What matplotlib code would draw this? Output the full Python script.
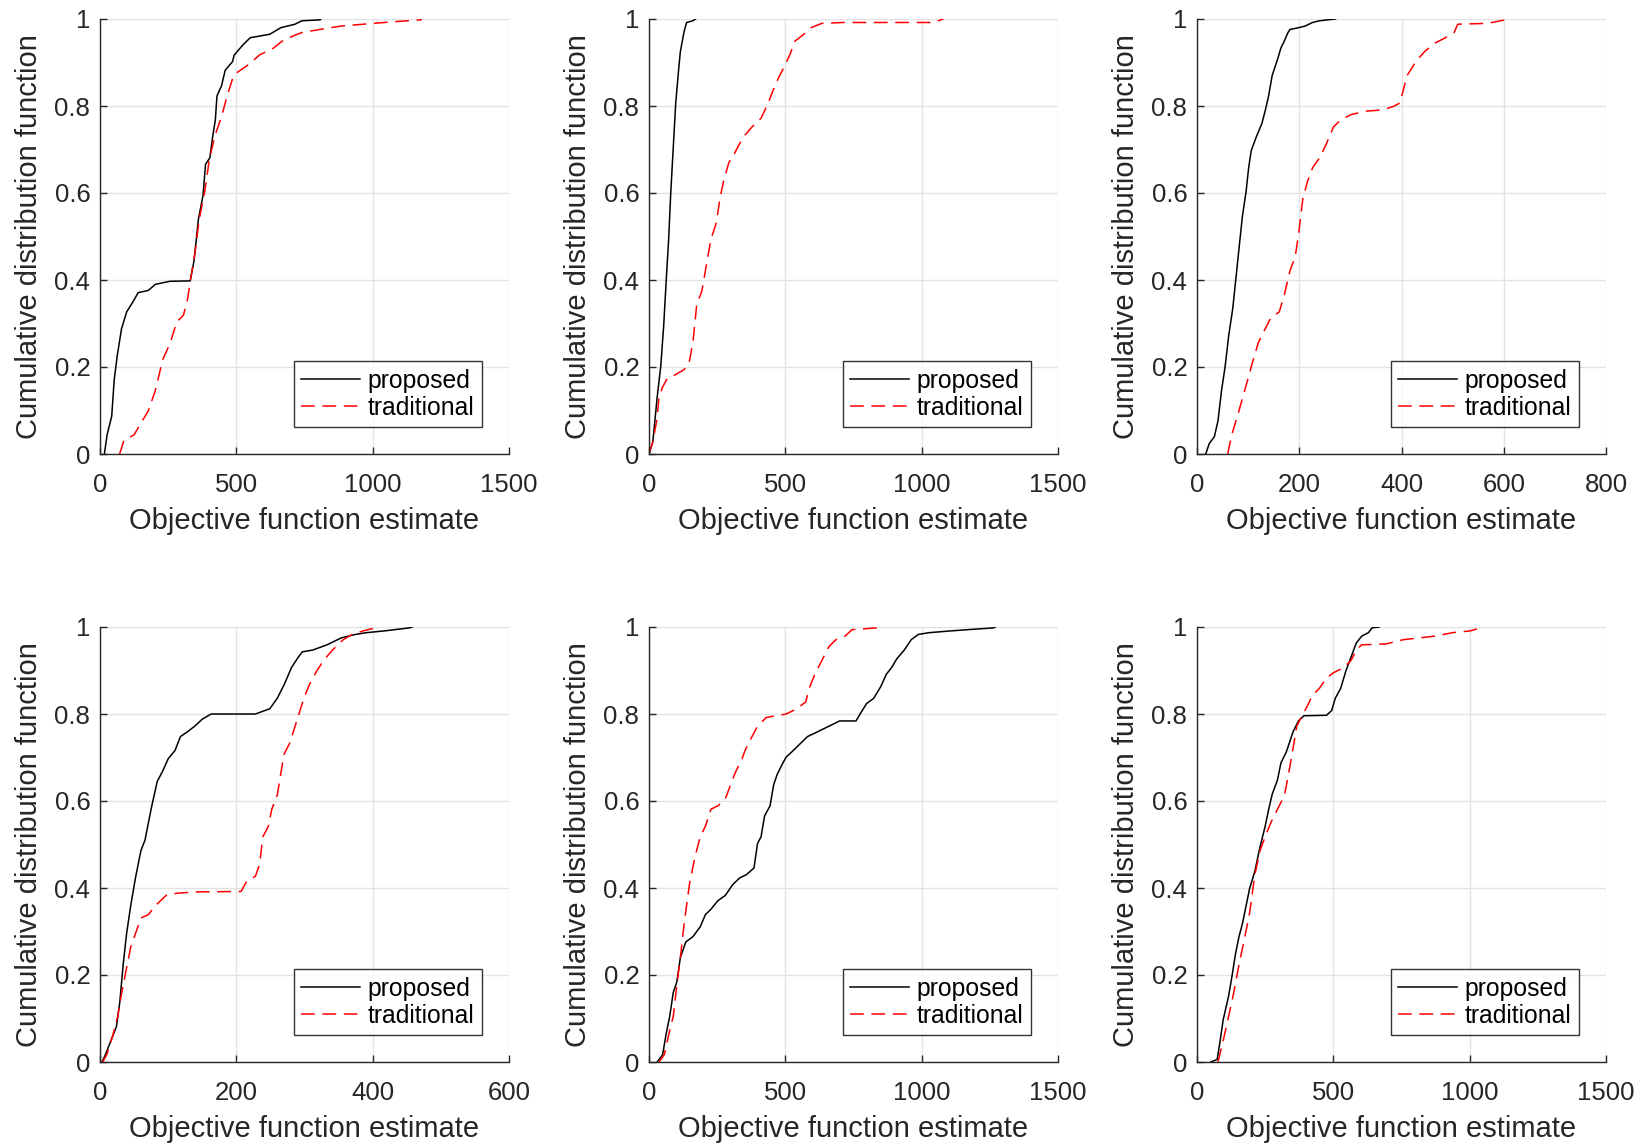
import matplotlib
matplotlib.use("Agg")
import matplotlib.pyplot as plt

plt.rcParams['font.family'] = ['Liberation Sans', 'DejaVu Sans']

# ---------------- data (CDF points) ----------------
# Panel 1
p1_prop_x = [16, 26, 43, 52, 63, 79, 98, 122, 140, 177, 203, 256, 331, 345, 361, 378, 387, 403, 413, 423,
             429, 446, 459, 486, 492, 525, 551, 623, 663, 715, 741, 807, 810]
p1_prop_F = [0, 0.044, 0.087, 0.17, 0.225, 0.288, 0.327, 0.351, 0.371, 0.376, 0.39, 0.397, 0.398, 0.445, 0.54,
             0.595, 0.666, 0.681, 0.729, 0.768, 0.823, 0.847, 0.882, 0.902, 0.917, 0.941, 0.957, 0.965, 0.98,
             0.988, 0.996, 0.998, 1.0]
p1_trad_x = [72, 88, 125, 151, 177, 203, 230, 256, 282, 306, 322, 331, 348, 364, 384, 400, 420, 446, 466, 486,
             505, 551, 584, 636, 676, 741, 807, 886, 1004, 1083, 1175, 1180]
p1_trad_F = [0, 0.032, 0.044, 0.072, 0.099, 0.146, 0.217, 0.253, 0.304, 0.319, 0.359, 0.398, 0.461, 0.54, 0.603,
             0.673, 0.729, 0.776, 0.823, 0.862, 0.878, 0.898, 0.917, 0.933, 0.953, 0.969, 0.976, 0.984, 0.99,
             0.994, 0.998, 1.0]

# Panel 2
p2_prop_x = [0, 14, 30, 43, 54, 63, 72, 80, 89, 98, 109, 115, 129, 138, 161, 171]
p2_prop_F = [0, 0.028, 0.131, 0.201, 0.296, 0.398, 0.493, 0.603, 0.705, 0.807, 0.886, 0.925, 0.972, 0.992,
             0.996, 1.0]
p2_trad_x = [0, 14, 28, 37, 50, 67, 96, 129, 148, 161, 175, 194, 207, 227, 247, 260, 273, 293, 312, 332, 352,
             378, 411, 437, 457, 476, 496, 516, 535, 568, 594, 634, 713, 1041, 1080]
p2_trad_F = [0, 0.028, 0.076, 0.131, 0.154, 0.174, 0.182, 0.194, 0.213, 0.256, 0.343, 0.375, 0.422, 0.493,
             0.532, 0.587, 0.626, 0.67, 0.689, 0.713, 0.733, 0.752, 0.772, 0.807, 0.839, 0.866, 0.89, 0.917,
             0.949, 0.965, 0.98, 0.99, 0.992, 0.992, 1.0]

# Panel 3
p3_prop_x = [17, 24, 34, 41, 48, 55, 62, 70, 77, 84, 89, 96, 101, 106, 116, 127, 134, 140, 147, 158, 164, 171,
             178, 182, 199, 212, 226, 240, 271]
p3_prop_F = [0, 0.024, 0.04, 0.076, 0.146, 0.201, 0.272, 0.335, 0.414, 0.493, 0.548, 0.603, 0.658, 0.697,
             0.729, 0.76, 0.792, 0.823, 0.87, 0.909, 0.933, 0.95, 0.969, 0.976, 0.98, 0.984, 0.992, 0.996, 1.0]
p3_trad_x = [60, 68, 82, 99, 110, 120, 130, 144, 161, 171, 182, 192, 199, 207, 216, 226, 240, 253, 267, 281,
             301, 329, 363, 384, 397, 404, 411, 428, 445, 466, 486, 503, 510, 568, 603, 605]
p3_trad_F = [0, 0.044, 0.099, 0.17, 0.217, 0.256, 0.28, 0.312, 0.327, 0.367, 0.422, 0.453, 0.508, 0.587,
             0.626, 0.658, 0.681, 0.713, 0.752, 0.768, 0.78, 0.788, 0.791, 0.799, 0.807, 0.839, 0.87, 0.902,
             0.925, 0.945, 0.957, 0.969, 0.988, 0.99, 0.998, 1.0]

# Panel 4
p4_prop_x = [3, 8, 16, 24, 29, 34, 39, 45, 52, 60, 66, 71, 76, 84, 92, 100, 110, 118, 129, 139, 150, 163, 228,
             249, 260, 270, 281, 291, 297, 312, 333, 354, 375, 391, 417, 454, 458]
p4_prop_F = [0, 0.017, 0.049, 0.081, 0.137, 0.224, 0.295, 0.359, 0.423, 0.486, 0.51, 0.55, 0.589, 0.645,
             0.669, 0.697, 0.716, 0.748, 0.76, 0.772, 0.788, 0.8, 0.8, 0.812, 0.836, 0.867, 0.907, 0.931, 0.943,
             0.947, 0.959, 0.975, 0.983, 0.987, 0.991, 0.998, 1.0]
p4_trad_x = [4, 10, 18, 26, 31, 37, 45, 52, 60, 71, 81, 97, 113, 139, 207, 215, 228, 234, 239, 247, 252, 260,
             265, 270, 278, 283, 291, 299, 307, 318, 328, 341, 357, 370, 386, 404, 406]
p4_trad_F = [0, 0.017, 0.057, 0.105, 0.152, 0.2, 0.264, 0.295, 0.331, 0.339, 0.359, 0.383, 0.388, 0.391,
             0.392, 0.415, 0.427, 0.454, 0.518, 0.542, 0.581, 0.613, 0.661, 0.708, 0.732, 0.756, 0.796, 0.836,
             0.867, 0.899, 0.923, 0.947, 0.971, 0.983, 0.991, 0.998, 1.0]

# Panel 5
p5_prop_x = [30, 50, 63, 76, 89, 102, 115, 135, 161, 188, 207, 227, 253, 280, 306, 332, 358, 385, 398, 411,
             424, 444, 457, 470, 489, 503, 529, 555, 581, 608, 634, 660, 699, 759, 778, 798, 824, 850, 870,
             890, 909, 936, 962, 988, 1028, 1106, 1172, 1264, 1270]
p5_prop_F = [0, 0.017, 0.065, 0.105, 0.16, 0.184, 0.24, 0.276, 0.288, 0.311, 0.339, 0.351, 0.371, 0.383,
             0.407, 0.423, 0.431, 0.446, 0.502, 0.518, 0.566, 0.589, 0.637, 0.661, 0.685, 0.701, 0.716, 0.732,
             0.748, 0.756, 0.764, 0.772, 0.784, 0.784, 0.804, 0.824, 0.836, 0.863, 0.891, 0.907, 0.927, 0.947,
             0.971, 0.983, 0.987, 0.991, 0.994, 0.998, 1.0]
p5_trad_x = [37, 56, 76, 89, 102, 115, 129, 148, 168, 188, 207, 227, 253, 280, 299, 319, 339, 352, 371, 398,
             430, 503, 542, 575, 588, 608, 634, 660, 686, 719, 745, 837, 840]
p5_trad_F = [0, 0.017, 0.073, 0.105, 0.176, 0.24, 0.319, 0.407, 0.47, 0.518, 0.542, 0.581, 0.589, 0.605,
             0.637, 0.669, 0.693, 0.716, 0.74, 0.772, 0.792, 0.8, 0.812, 0.828, 0.86, 0.891, 0.923, 0.955,
             0.971, 0.979, 0.994, 0.998, 1.0]

# Panel 6
p6_prop_x = [51, 74, 83, 96, 116, 128, 141, 154, 167, 180, 193, 212, 231, 250, 263, 276, 295, 308, 327, 340,
             353, 372, 392, 475, 494, 507, 527, 546, 565, 584, 604, 629, 642, 668]
p6_prop_F = [0, 0.006, 0.041, 0.097, 0.152, 0.196, 0.248, 0.288, 0.319, 0.359, 0.399, 0.438, 0.494, 0.542,
             0.581, 0.616, 0.648, 0.688, 0.712, 0.736, 0.76, 0.784, 0.796, 0.797, 0.808, 0.836, 0.859, 0.899,
             0.931, 0.963, 0.979, 0.987, 0.998, 1.0]
p6_trad_x = [77, 96, 116, 135, 154, 173, 193, 212, 231, 250, 270, 295, 321, 340, 353, 366, 385, 405, 424, 449,
             475, 501, 539, 565, 584, 604, 693, 758, 873, 937, 1002, 1040, 1045]
p6_trad_F = [0, 0.049, 0.105, 0.16, 0.224, 0.28, 0.343, 0.43, 0.486, 0.518, 0.549, 0.581, 0.613, 0.677,
             0.724, 0.772, 0.796, 0.819, 0.843, 0.859, 0.883, 0.895, 0.907, 0.923, 0.947, 0.959, 0.961, 0.971,
             0.979, 0.987, 0.991, 0.998, 1.0]

x_limits = [1500, 1500, 800, 600, 1500, 1500]
x_steps = [500, 500, 200, 200, 500, 500]
y_ticks = [0, 0.2, 0.4, 0.6, 0.8, 1]
y_tick_labels = ["0", "0.2", "0.4", "0.6", "0.8", "1"]
series_labels = ["proposed", "traditional"]
x_label = "Objective function estimate"
y_label = "Cumulative distribution function"

panels = [
    (p1_prop_x, p1_prop_F, p1_trad_x, p1_trad_F),
    (p2_prop_x, p2_prop_F, p2_trad_x, p2_trad_F),
    (p3_prop_x, p3_prop_F, p3_trad_x, p3_trad_F),
    (p4_prop_x, p4_prop_F, p4_trad_x, p4_trad_F),
    (p5_prop_x, p5_prop_F, p5_trad_x, p5_trad_F),
    (p6_prop_x, p6_prop_F, p6_trad_x, p6_trad_F),
]

# ---------------- figure ----------------
W, H = 1638, 1144
fig = plt.figure(figsize=(W / 100, H / 100), dpi=100)
col_left = [100, 649, 1197]
row_top = [19, 627]
ax_w, ax_h = 409, 435
txt = "#262626"

for i, (px, pF, tx, tF) in enumerate(panels):
    r, c = divmod(i, 3)
    ax = fig.add_axes([col_left[c] / W, 1 - (row_top[r] + ax_h) / H, ax_w / W, ax_h / H])
    ax.plot(px, pF, color="black", lw=1.1, label=series_labels[0])
    ax.plot(tx, tF, color="red", lw=1.1, ls=(0, (9, 5)), label=series_labels[1])
    xl = x_limits[i]
    ax.set_xlim(0, xl)
    ax.set_ylim(0, 1)
    ax.set_xticks(list(range(0, xl + 1, x_steps[i])))
    ax.set_yticks(y_ticks)
    ax.set_yticklabels(y_tick_labels)
    ax.grid(True, color="#e3e3e3", lw=1.0)
    ax.set_axisbelow(True)
    for s in ["top", "right"]:
        ax.spines[s].set_visible(False)
    for s in ["left", "bottom"]:
        ax.spines[s].set_color(txt)
        ax.spines[s].set_linewidth(1.0)
    ax.tick_params(direction="in", length=5, width=1.0, color=txt, labelcolor=txt, labelsize=18.5)
    ax.tick_params(axis="x", pad=14)
    ax.tick_params(axis="y", pad=7)
    ax.set_xlabel(x_label, fontsize=21, color=txt, labelpad=7)
    ax.set_ylabel(y_label, fontsize=21, color=txt, labelpad=8)
    leg = ax.legend(loc="lower right", bbox_to_anchor=(0.934, 0.062), borderaxespad=0,
                    fontsize=17.8, frameon=True, fancybox=False, handlelength=2.4,
                    handletextpad=0.3, borderpad=0.3, labelspacing=0.12)
    leg.get_frame().set_edgecolor("black")
    leg.get_frame().set_linewidth(1.0)
    for t in leg.get_texts():
        t.set_color("black")

fig.savefig("out.png", dpi=100)
